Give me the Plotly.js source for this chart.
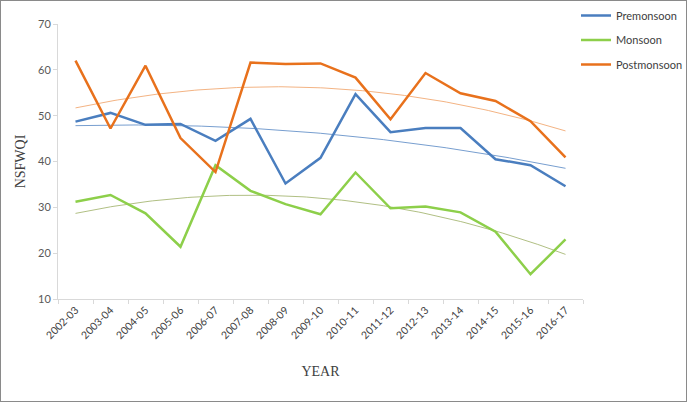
<!DOCTYPE html>
<html>
<head>
<meta charset="utf-8">
<script src="https://cdn.plot.ly/plotly-3.0.1.min.js"></script>
<style>
  body { margin: 0; background: #fff; }
  #wrap { position: relative; width: 687px; height: 402px; }
  #chart { width: 687px; height: 402px; }
  #frame { position: absolute; left: 0; top: 0; width: 685px; height: 400px; border: 1px solid #8a8a8a; pointer-events: none; }
</style>
</head>
<body>
<div id="wrap"><div id="chart"></div><div id="frame"></div></div>
<script>
const years = ["2002-03","2003-04","2004-05","2005-06","2006-07","2007-08","2008-09","2009-10","2010-11","2011-12","2012-13","2013-14","2014-15","2015-16","2016-17"];
const premonsoon = [48.7, 50.6, 48.0, 48.2, 44.5, 49.3, 35.2, 40.8, 54.7, 46.4, 47.3, 47.3, 40.5, 39.2, 34.6];
const monsoon = [31.2, 32.7, 28.7, 21.4, 39.2, 33.6, 30.7, 28.5, 37.6, 29.8, 30.2, 28.9, 24.7, 15.4, 23.0];
const postmonsoon = [62.0, 47.2, 60.9, 45.1, 37.7, 61.6, 61.3, 61.4, 58.3, 49.2, 59.3, 54.9, 53.2, 48.8, 40.9];
const yTicks = [10, 20, 30, 40, 50, 60, 70];

const idx = years.map((_, i) => i);

function quadFit(ys) {
  // least-squares polynomial of order 2 (like the spreadsheet trendline)
  const n = ys.length;
  let S = [0,0,0,0,0], T = [0,0,0];
  for (let i = 0; i < n; i++) {
    const x = i;
    let p = 1;
    for (let k = 0; k < 5; k++) { S[k] += p; p *= x; }
    T[0] += ys[i]; T[1] += ys[i]*x; T[2] += ys[i]*x*x;
  }
  const A = [[S[0],S[1],S[2],T[0]],[S[1],S[2],S[3],T[1]],[S[2],S[3],S[4],T[2]]];
  for (let c = 0; c < 3; c++) {
    for (let r = c+1; r < 3; r++) {
      const f = A[r][c]/A[c][c];
      for (let k = c; k < 4; k++) A[r][k] -= f*A[c][k];
    }
  }
  const co = [0,0,0];
  for (let r = 2; r >= 0; r--) {
    let s = A[r][3];
    for (let k = r+1; k < 3; k++) s -= A[r][k]*co[k];
    co[r] = s/A[r][r];
  }
  return co;
}
function trendTrace(ys, color) {
  const co = quadFit(ys);
  const xs = [], vs = [];
  for (let t = 0; t <= (ys.length-1)*10; t++) {
    const x = t/10;
    xs.push(x); vs.push(co[0] + co[1]*x + co[2]*x*x);
  }
  return {x: xs, y: vs, mode: 'lines', line: {color: color, width: 1}, showlegend: false, hoverinfo: 'skip'};
}

const cBlue = '#4a7ebf', cGreen = '#8dcf4a', cOrange = '#e8711c';

const data = [
  trendTrace(premonsoon, 'rgba(74,126,191,0.75)'),
  trendTrace(monsoon, 'rgba(150,170,90,0.75)'),
  trendTrace(postmonsoon, 'rgba(240,160,100,0.8)'),
  {x: idx, y: premonsoon, name: 'Premonsoon', mode: 'lines', line: {color: cBlue, width: 2.5}, legendgroup: 'a'},
  {x: idx, y: monsoon, name: 'Monsoon', mode: 'lines', line: {color: cGreen, width: 2.5}, legendgroup: 'b'},
  {x: idx, y: postmonsoon, name: 'Postmonsoon', mode: 'lines', line: {color: cOrange, width: 2.5}, legendgroup: 'c'}
];

const layout = {
  width: 687, height: 402,
  margin: {l: 58, r: 104, t: 24, b: 103, autoexpand: false},
  paper_bgcolor: '#fff', plot_bgcolor: '#fff',
  font: {family: 'Lato, "Open Sans", sans-serif', color: '#595959', size: 11},
  showlegend: true,
  legend: {xref: 'container', yref: 'container', x: 576/687, y: 1 - 1/402, xanchor: 'left', yanchor: 'top',
           font: {size: 11, color: '#404040'}, tracegroupgap: 5.5, bgcolor: 'rgba(0,0,0,0)'},
  xaxis: {
    range: [-0.5, 14.5], tickvals: idx, ticktext: years, tickangle: -45, automargin: false,
    showgrid: false, zeroline: false, showline: true, linecolor: '#d9d9d9', linewidth: 1,
    ticks: '', tickfont: {size: 10.5, color: '#404040'},
    minor: {tick0: -0.5, dtick: 1, ticks: 'outside', ticklen: 4, tickcolor: '#d9d9d9', showgrid: false},
    title: {text: 'YEAR', font: {family: '"Liberation Serif", "DejaVu Serif", serif', size: 14, color: '#404040'}, standoff: 26},
    fixedrange: true
  },
  yaxis: {
    range: [10, 70], tickvals: yTicks, showgrid: false, zeroline: false, automargin: false,
    showline: true, linecolor: '#d9d9d9', linewidth: 1, ticks: 'outside', ticklen: 4, tickcolor: '#d9d9d9',
    tickfont: {size: 11, color: '#595959'},
    title: {text: 'NSFWQI', font: {family: '"Liberation Serif", "DejaVu Serif", serif', size: 14, color: '#404040'}, standoff: 9},
    fixedrange: true
  }
};

Plotly.newPlot('chart', data, layout, {displayModeBar: false, staticPlot: true});
</script>
</body>
</html>
